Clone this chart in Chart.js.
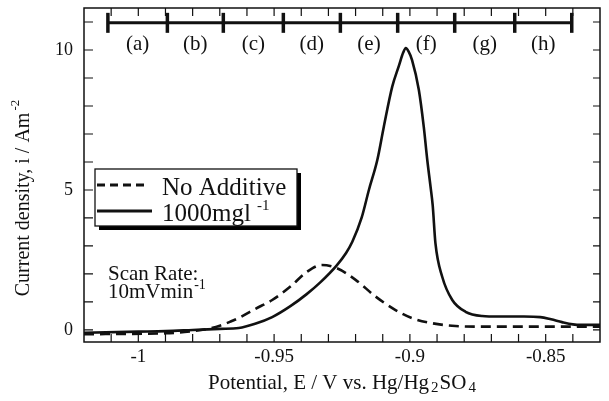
<!DOCTYPE html>
<html><head><meta charset="utf-8">
<script src="https://cdn.jsdelivr.net/npm/chart.js@4/dist/chart.umd.min.js"></script>
<style>html,body{margin:0;padding:0;background:#fff}#wrap{width:609px;height:401px;position:relative}</style>
</head><body><div id="wrap"><canvas id="c"></canvas></div>
<script>
// ---- data ----
const potentialNoAdditive = [-1.02, -0.99, -0.98, -0.975, -0.97, -0.966, -0.963, -0.957, -0.9507, -0.944, -0.938, -0.9324, -0.927, -0.92, -0.9126, -0.9053, -0.8992, -0.8918, -0.8832, -0.875, -0.86, -0.845, -0.83];
const currentNoAdditive   = [-0.15, -0.12, -0.04, 0.03, 0.15, 0.3, 0.43, 0.75, 1.07, 1.55, 2.07, 2.32, 2.21, 1.79, 1.19, 0.71, 0.42, 0.24, 0.14, 0.12, 0.12, 0.12, 0.12];
const potential1000 = [-1.02, -1.0, -0.99, -0.98, -0.97, -0.963, -0.957, -0.9507, -0.944, -0.938, -0.933, -0.927, -0.9235, -0.9212, -0.9178, -0.9151, -0.912, -0.9096, -0.9065, -0.904, -0.9025, -0.9015, -0.9005, -0.8992, -0.8967, -0.8949, -0.8936, -0.8924, -0.8916, -0.8906, -0.8881, -0.8844, -0.8795, -0.8734, -0.8673, -0.858, -0.852, -0.848, -0.844, -0.84, -0.837, -0.83];
const current1000   = [-0.1, -0.06, -0.04, 0.0, 0.04, 0.07, 0.22, 0.46, 0.85, 1.28, 1.7, 2.3, 2.75, 3.15, 4.0, 5.0, 6.07, 7.26, 8.69, 9.45, 9.9, 10.07, 9.95, 9.64, 8.57, 7.26, 6.07, 5.12, 4.45, 3.1, 1.9, 1.07, 0.65, 0.5, 0.48, 0.48, 0.46, 0.38, 0.28, 0.2, 0.18, 0.18];
const regionEdges  = [-1.0112, -0.9893, -0.9687, -0.9466, -0.9256, -0.9045, -0.8835, -0.8614, -0.8404];
const regionLabels = ['(a)', '(b)', '(c)', '(d)', '(e)', '(f)', '(g)', '(h)'];
const xTickLabels = [-1, -0.95, -0.9, -0.85];
const yTickLabels = [0, 5, 10];
const seriesNames = ['No Additive', '1000mgl'];
const barLevel = 10.97;
const labelLevel = 10.2;

const SERIF = '"Liberation Serif", "Times New Roman", serif';
const pairs = (xs, ys) => xs.map((x, i) => ({x, y: ys[i]}));

function drawRuns(ctx, runs, x, y, align) {
  let total = 0;
  runs.forEach(r => { ctx.font = r.size + 'px ' + SERIF; r.w = ctx.measureText(r.t).width; total += r.w + (r.gap || 0); });
  let cx = align === 'center' ? x - total / 2 : x;
  runs.forEach(r => { cx += (r.gap || 0); ctx.font = r.size + 'px ' + SERIF; ctx.fillText(r.t, cx, y + (r.dy || 0)); cx += r.w; });
}

const decor = {
  id: 'decor',
  afterDraw(chart) {
    const {ctx, chartArea: a, scales: {x, y}} = chart;
    ctx.save();
    // frame
    ctx.strokeStyle = '#111'; ctx.lineWidth = 1.5;
    ctx.strokeRect(a.left, a.top, a.right - a.left, a.bottom - a.top);
    // inward ticks
    ctx.lineWidth = 1.2;
    x.ticks.forEach(t => {
      const p = x.getPixelForValue(t.value);
      if (p < a.left + 1 || p > a.right - 1) return;
      ctx.beginPath();
      ctx.moveTo(p, a.bottom); ctx.lineTo(p, a.bottom - 8);
      ctx.moveTo(p, a.top); ctx.lineTo(p, a.top + 8);
      ctx.stroke();
    });
    y.ticks.forEach(t => {
      const p = y.getPixelForValue(t.value);
      if (p < a.top + 1 || p > a.bottom - 1) return;
      ctx.beginPath();
      ctx.moveTo(a.left, p); ctx.lineTo(a.left + 9, p);
      ctx.moveTo(a.right, p); ctx.lineTo(a.right - 7, p);
      ctx.stroke();
    });
    ctx.fillStyle = '#111';
    // region labels
    ctx.textBaseline = 'middle'; ctx.textAlign = 'center';
    ctx.font = '21px ' + SERIF;
    regionLabels.forEach((lab, i) => {
      const px = (x.getPixelForValue(regionEdges[i]) + x.getPixelForValue(regionEdges[i + 1])) / 2;
      ctx.fillText(lab, px, y.getPixelForValue(labelLevel));
    });
    // axis titles
    ctx.textAlign = 'left'; ctx.textBaseline = 'middle';
    drawRuns(ctx, [
      {t: 'Potential, E / V vs. Hg/Hg', size: 21},
      {t: '2', size: 15, dy: 5, gap: 2},
      {t: 'SO', size: 21, gap: 1},
      {t: '4', size: 15, dy: 5, gap: 2}
    ], (a.left + a.right) / 2, 383, 'center');
    ctx.save();
    ctx.translate(24, 198); ctx.rotate(-Math.PI / 2);
    drawRuns(ctx, [
      {t: 'Current density, i / Am', size: 20},
      {t: '-2', size: 13, dy: -8, gap: 2}
    ], 0, 0, 'center');
    ctx.restore();
    // legend box with shadow
    const L = 95, T = 169, W = 202, H = 57;
    ctx.fillStyle = '#000';
    ctx.fillRect(L + 4, T + 4, W, H);
    ctx.fillStyle = '#fff';
    ctx.fillRect(L, T, W, H);
    ctx.strokeStyle = '#111'; ctx.lineWidth = 1.3;
    ctx.strokeRect(L, T, W, H);
    const ds = chart.data.datasets;
    ctx.lineWidth = 3; ctx.strokeStyle = ds[0].borderColor;
    ctx.setLineDash([8, 5]);
    ctx.beginPath(); ctx.moveTo(L + 2, 185); ctx.lineTo(L + 52, 185); ctx.stroke();
    ctx.setLineDash([]); ctx.strokeStyle = ds[1].borderColor;
    ctx.beginPath(); ctx.moveTo(L + 2, 211); ctx.lineTo(L + 57, 211); ctx.stroke();
    ctx.fillStyle = '#111'; ctx.textBaseline = 'alphabetic';
    drawRuns(ctx, [{t: seriesNames[0], size: 25}], 162, 195, 'left');
    drawRuns(ctx, [{t: seriesNames[1], size: 25}, {t: '-1', size: 15, dy: -11, gap: 6}], 162, 221, 'left');
    // scan rate note
    drawRuns(ctx, [{t: 'Scan Rate:', size: 21}], 108, 280, 'left');
    drawRuns(ctx, [{t: '10mVmin', size: 21}, {t: '-1', size: 14, dy: -9, gap: 1}], 108, 298, 'left');
    ctx.restore();
  }
};

new Chart(document.getElementById('c'), {
  type: 'scatter',
  data: {
    datasets: [
      {label: seriesNames[0], data: pairs(potentialNoAdditive, currentNoAdditive), showLine: true, borderColor: '#111', borderWidth: 2.6, borderDash: [10, 6], pointRadius: 0, cubicInterpolationMode: 'monotone'},
      {label: seriesNames[1], data: pairs(potential1000, current1000), showLine: true, borderColor: '#111', borderWidth: 2.6, pointRadius: 0, cubicInterpolationMode: 'monotone'},
      {label: 'regions', data: regionEdges.map(e => ({x: e, y: barLevel})), showLine: true, borderColor: '#111', borderWidth: 3, pointStyle: 'line', pointRadius: 10, pointRotation: 90, pointBorderWidth: 3.5, pointBorderColor: '#111', clip: false}
    ]
  },
  options: {
    responsive: true, maintainAspectRatio: false, animation: false,
    layout: {autoPadding: false, padding: {top: 8, right: 9, left: 0, bottom: 0}},
    plugins: {legend: {display: false}, tooltip: {enabled: false}},
    scales: {
      x: {
        type: 'linear', min: -1.02, max: -0.83,
        grid: {display: false, drawTicks: false}, border: {display: false},
        ticks: {stepSize: 0.01, autoSkip: false, maxRotation: 0, padding: 4, color: '#111', font: {family: SERIF, size: 19},
          callback: v => { const m = xTickLabels.find(l => Math.abs(l - v) < 1e-6); return m === undefined ? '' : String(m); }},
        afterFit: s => { s.height = 59; s.paddingLeft = 0; s.paddingRight = 0; }
      },
      y: {
        type: 'linear', min: -0.43, max: 11.5,
        grid: {display: false, drawTicks: false}, border: {display: false},
        ticks: {stepSize: 1, includeBounds: false, autoSkip: false, padding: 11, color: '#111', font: {family: SERIF, size: 18},
          callback: v => { const m = yTickLabels.find(l => Math.abs(l - v) < 1e-6); return m === undefined ? '' : String(m); }},
        afterFit: s => { s.width = 84; s.paddingTop = 0; s.paddingBottom = 0; }
      }
    }
  },
  plugins: [decor]
});
</script>
</body></html>
